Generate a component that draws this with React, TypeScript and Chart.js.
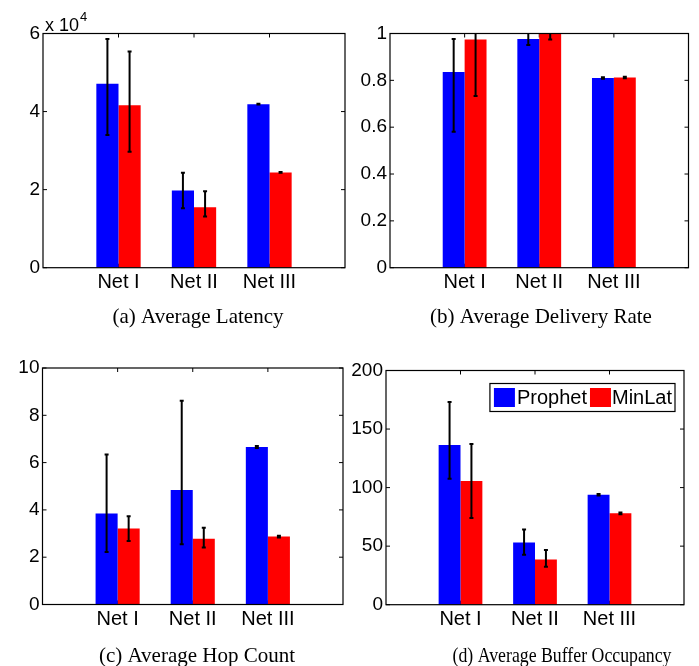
import React, { useEffect, useRef } from 'react';
import { Chart, registerables } from 'chart.js';

Chart.register(...registerables);

// ---------- data ----------
const categories = ['Net I', 'Net II', 'Net III'];
const seriesNames = ['Prophet', 'MinLat'];
const seriesColors = ['#0000ff', '#ff0000'];

// (a) Average Latency
const latencyProphet = [47100, 19800, 41900];
const latencyProphetLow = [34000, 15200, 41800];
const latencyProphetHigh = [58600, 24300, 42000];
const latencyMinLat = [41600, 15500, 24400];
const latencyMinLatLow = [29700, 13100, 24300];
const latencyMinLatHigh = [55400, 19600, 24500];
const latencyTicks = [0, 20000, 40000, 60000];

// (b) Average Delivery Rate
const deliveryProphet = [0.836, 0.977, 0.81];
const deliveryProphetLow = [0.58, 0.951, 0.807];
const deliveryProphetHigh = [0.977, 1.003, 0.813];
const deliveryMinLat = [0.974, 0.998, 0.812];
const deliveryMinLatLow = [0.733, 0.974, 0.809];
const deliveryMinLatHigh = [1.2, 1.02, 0.815];
const deliveryTicks = [0, 0.2, 0.4, 0.6, 0.8, 1];

// (c) Average Hop Count
const hopProphet = [3.85, 4.84, 6.66];
const hopProphetLow = [2.22, 2.55, 6.62];
const hopProphetHigh = [6.34, 8.62, 6.7];
const hopMinLat = [3.21, 2.78, 2.87];
const hopMinLatLow = [2.69, 2.41, 2.83];
const hopMinLatHigh = [3.73, 3.24, 2.91];
const hopTicks = [0, 2, 4, 6, 8, 10];

// (d) Average Buffer Occupancy
const bufferProphet = [136.3, 53.2, 93.9];
const bufferProphetLow = [107.6, 42.7, 93.2];
const bufferProphetHigh = [173, 64.3, 94.6];
const bufferMinLat = [105.6, 38.7, 78];
const bufferMinLatLow = [74, 32.4, 77.3];
const bufferMinLatHigh = [137.2, 46.7, 78.7];
const bufferTicks = [0, 50, 100, 150, 200];

// ---------- layout ----------
const W = 699;
const H = 666;
const Y_AXIS_W = 40;
const X_AXIS_H = 30;
const SANS = '"Liberation Sans", Arial, Helvetica, sans-serif';
const SERIF = '"Liberation Serif", "Times New Roman", Times, serif';

type Panel = {
  caption: string;
  values: number[][];
  lows: number[][];
  highs: number[][];
  ticks: number[];
  divisor: number;
  exponent?: string;
  legend?: boolean;
  area: { left: number; top: number; right: number; bottom: number };
  captionX: number;
  captionY: number;
  captionMaxWidth?: number;
};

const panels: Panel[] = [
  {
    caption: '(a) Average Latency',
    values: [latencyProphet, latencyMinLat],
    lows: [latencyProphetLow, latencyMinLatLow],
    highs: [latencyProphetHigh, latencyMinLatHigh],
    ticks: latencyTicks,
    divisor: 10000,
    exponent: '4',
    area: { left: 43, top: 33.5, right: 345, bottom: 267.7 },
    captionX: 198,
    captionY: 323,
  },
  {
    caption: '(b) Average Delivery Rate',
    values: [deliveryProphet, deliveryMinLat],
    lows: [deliveryProphetLow, deliveryMinLatLow],
    highs: [deliveryProphetHigh, deliveryMinLatHigh],
    ticks: deliveryTicks,
    divisor: 1,
    area: { left: 390, top: 33.5, right: 688.5, bottom: 267.7 },
    captionX: 541,
    captionY: 323,
  },
  {
    caption: '(c) Average Hop Count',
    values: [hopProphet, hopMinLat],
    lows: [hopProphetLow, hopMinLatLow],
    highs: [hopProphetHigh, hopMinLatHigh],
    ticks: hopTicks,
    divisor: 1,
    area: { left: 42.5, top: 368, right: 343, bottom: 604.5 },
    captionX: 197,
    captionY: 662,
  },
  {
    caption: '(d) Average Buffer Occupancy',
    values: [bufferProphet, bufferMinLat],
    lows: [bufferProphetLow, bufferMinLatLow],
    highs: [bufferProphetHigh, bufferMinLatHigh],
    ticks: bufferTicks,
    divisor: 1,
    legend: true,
    area: { left: 386, top: 370.5, right: 684, bottom: 604.7 },
    captionX: 562,
    captionY: 662,
    captionMaxWidth: 219,
  },
];

const decorPlugin = {
  id: 'decor',
  beforeDatasetsDraw(chart: any) {
    const { ctx, chartArea: ca, scales } = chart;
    const y = scales.y;
    const x = scales.x;
    const tl = 4;
    ctx.save();
    ctx.strokeStyle = '#000';
    ctx.lineWidth = 1;
    ctx.beginPath();
    y.ticks.forEach((t: any) => {
      const py = y.getPixelForValue(t.value);
      ctx.moveTo(ca.left, py);
      ctx.lineTo(ca.left + tl, py);
      ctx.moveTo(ca.right, py);
      ctx.lineTo(ca.right - tl, py);
    });
    for (let i = 1; i <= categories.length; i++) {
      const px = x.getPixelForValue(i);
      ctx.moveTo(px, ca.top);
      ctx.lineTo(px, ca.top + tl);
      ctx.moveTo(px, ca.bottom);
      ctx.lineTo(px, ca.bottom - tl);
    }
    ctx.stroke();
    ctx.restore();
  },
  afterDatasetsDraw(chart: any) {
    const { ctx, chartArea: ca, scales } = chart;
    const y = scales.y;
    ctx.save();
    ctx.beginPath();
    ctx.rect(ca.left, ca.top, ca.right - ca.left, ca.bottom - ca.top);
    ctx.clip();
    ctx.strokeStyle = '#000';
    ctx.lineWidth = 2;
    chart.data.datasets.forEach((ds: any, di: number) => {
      const meta = chart.getDatasetMeta(di);
      meta.data.forEach((el: any, j: number) => {
        const lo = ds.errLow[j];
        const hi = ds.errHigh[j];
        if (lo == null || hi == null) return;
        const ylo = y.getPixelForValue(lo);
        const yhi = y.getPixelForValue(hi);
        ctx.beginPath();
        ctx.moveTo(el.x, ylo);
        ctx.lineTo(el.x, yhi);
        ctx.moveTo(el.x - 2, ylo);
        ctx.lineTo(el.x + 2, ylo);
        ctx.moveTo(el.x - 2, yhi);
        ctx.lineTo(el.x + 2, yhi);
        ctx.stroke();
      });
    });
    ctx.restore();
    ctx.save();
    ctx.strokeStyle = '#000';
    ctx.lineWidth = 1.2;
    ctx.strokeRect(ca.left, ca.top, ca.right - ca.left, ca.bottom - ca.top);
    ctx.restore();
  },
  afterDraw(chart: any, _args: any, opts: any) {
    const { ctx, chartArea: ca } = chart;
    ctx.save();
    ctx.fillStyle = '#000';
    // caption
    ctx.font = `21px ${SERIF}`;
    ctx.textAlign = 'center';
    ctx.textBaseline = 'alphabetic';
    if (opts.captionMaxWidth) {
      ctx.fillText(opts.caption, opts.captionX, opts.captionY, opts.captionMaxWidth);
    } else {
      ctx.fillText(opts.caption, opts.captionX, opts.captionY);
    }
    // exponent
    if (opts.exponent) {
      ctx.textAlign = 'left';
      ctx.font = `18px ${SANS}`;
      const base = 'x 10';
      ctx.fillText(base, ca.left + 2, ca.top - 2.5);
      const w = ctx.measureText(base).width;
      ctx.font = `13px ${SANS}`;
      ctx.fillText(opts.exponent, ca.left + 3 + w, ca.top - 13);
    }
    // legend
    if (opts.legend) {
      ctx.font = `20px ${SANS}`;
      const names = chart.data.datasets.map((d: any) => d.label);
      const widths = names.map((n: string) => ctx.measureText(n).width);
      const patchW = 21;
      const patchH = 19;
      const boxW = 4 + patchW + 2 + widths[0] + 3 + patchW + 1 + widths[1] + 3;
      const boxH = 28;
      const bx = ca.right - 9 - boxW;
      const by = ca.top + 13;
      ctx.fillStyle = '#fff';
      ctx.fillRect(bx, by, boxW, boxH);
      ctx.strokeStyle = '#000';
      ctx.lineWidth = 1.2;
      ctx.strokeRect(bx, by, boxW, boxH);
      let cx = bx + 4;
      names.forEach((n: string, i: number) => {
        ctx.fillStyle = chart.data.datasets[i].backgroundColor;
        ctx.fillRect(cx, by + 4.5, patchW, patchH);
        cx += patchW + (i === 0 ? 2 : 1);
        ctx.fillStyle = '#000';
        ctx.textAlign = 'left';
        ctx.textBaseline = 'middle';
        ctx.fillText(n, cx, by + 4.5 + patchH / 2 + 1);
        cx += widths[i] + 3;
      });
    }
    ctx.restore();
  },
};

function PanelChart({ panel }: { panel: Panel }) {
  const ref = useRef<HTMLCanvasElement>(null);
  useEffect(() => {
    if (!ref.current) return;
    const labels = ['', ...categories, ''];
    const datasets = seriesNames.map((name, i) => ({
      label: name,
      data: [null, ...panel.values[i], null],
      backgroundColor: seriesColors[i],
      borderWidth: 0,
      categoryPercentage: 0.587,
      barPercentage: 1,
      errLow: [null, ...panel.lows[i], null],
      errHigh: [null, ...panel.highs[i], null],
    }));
    const a = panel.area;
    const ticks = panel.ticks;
    const chart = new Chart(ref.current, {
      type: 'bar',
      data: { labels, datasets: datasets as any },
      plugins: [decorPlugin as any],
      options: {
        animation: false,
        responsive: false,
        devicePixelRatio: 1,
        events: [],
        layout: {
          padding: {
            left: a.left - Y_AXIS_W,
            top: a.top,
            right: W - a.right,
            bottom: H - a.bottom - X_AXIS_H,
          },
        },
        plugins: {
          legend: { display: false },
          tooltip: { enabled: false },
          decor: {
            caption: panel.caption,
            captionX: panel.captionX,
            captionY: panel.captionY,
            captionMaxWidth: panel.captionMaxWidth,
            exponent: panel.exponent,
            legend: panel.legend,
          },
        } as any,
        scales: {
          x: {
            type: 'category',
            offset: false,
            grid: { display: false, drawTicks: false },
            border: { display: false },
            ticks: {
              font: { family: SANS, size: 20 },
              color: '#000',
              padding: 3,
              maxRotation: 0,
              autoSkip: false,
            },
            afterFit: (s: any) => {
              s.height = X_AXIS_H;
            },
          },
          y: {
            min: ticks[0],
            max: ticks[ticks.length - 1],
            grid: { display: false, drawTicks: false },
            border: { display: false },
            ticks: {
              stepSize: ticks[1] - ticks[0],
              font: { family: SANS, size: 19 },
              color: '#000',
              padding: 3,
              callback: (v: any) => String(Math.round((Number(v) / panel.divisor) * 1000) / 1000),
            },
            afterFit: (s: any) => {
              s.width = Y_AXIS_W;
            },
          },
        },
      } as any,
    });
    return () => chart.destroy();
  }, [panel]);
  return (
    <canvas
      ref={ref}
      width={W}
      height={H}
      style={{ position: 'absolute', left: 0, top: 0, width: W, height: H }}
    />
  );
}

export default function App() {
  return (
    <div
      style={{
        position: 'absolute',
        left: 0,
        top: 0,
        width: W,
        height: H,
        background: '#fff',
        overflow: 'hidden',
      }}
    >
      {panels.map((p, i) => (
        <PanelChart key={i} panel={p} />
      ))}
    </div>
  );
}
